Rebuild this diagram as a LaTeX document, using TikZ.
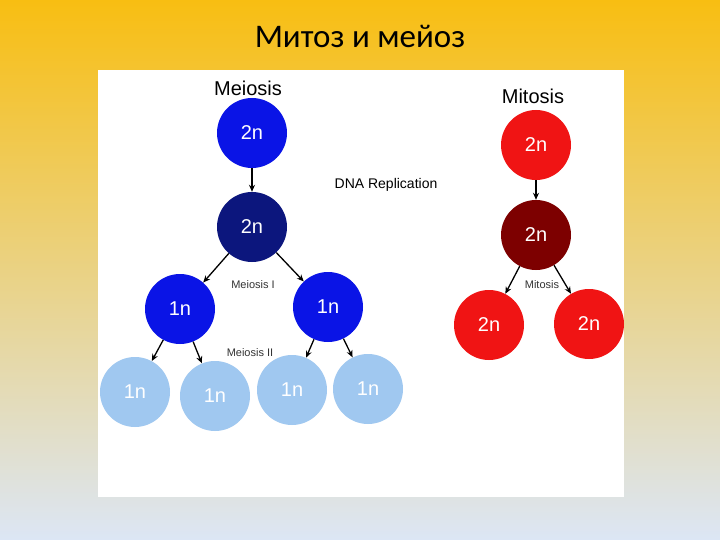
\documentclass[tikz,border=0pt]{standalone}
\usepackage{fontspec}
\setmainfont{Liberation Sans}
\newfontfamily\titlefont{Carlito}
\usetikzlibrary{arrows.meta}
\definecolor{topc}{RGB}{248,190,18}
\definecolor{midc}{RGB}{205,212,200}
\definecolor{botc}{RGB}{220,230,245}
\definecolor{cblue}{RGB}{10,20,230}
\definecolor{cnavy}{RGB}{12,22,125}
\definecolor{clight}{RGB}{160,200,240}
\definecolor{cred}{RGB}{240,20,20}
\definecolor{cdark}{RGB}{125,0,0}
\begin{document}
\begin{tikzpicture}[x=1pt,y=-1pt,
  cell/.style={circle,minimum size=70pt,inner sep=0pt,text=white,font=\fontsize{20}{20}\selectfont},
  arr/.style={-{Stealth[length=7pt,width=6pt]},line width=1.3pt,black},
  lbl/.style={font=\fontsize{11}{11}\selectfont,text=black!80}]
\shade[top color=topc,middle color=midc,bottom color=botc] (0,0) rectangle (720,540);
\useasboundingbox (0,0) rectangle (720,540);
\node[font=\titlefont\fontsize{33}{33}\selectfont] (title) at (360,36) {Митоз и мейоз};
\fill[white] (98,70) rectangle (624,497);
\node[font=\fontsize{20}{20}\selectfont] (meio) at (248,88) {Meiosis};
\node[font=\fontsize{20}{20}\selectfont] (mito) at (533,96) {Mitosis};
\node[font=\fontsize{14}{14}\selectfont] (dna) at (386,185) {DNA Replication};
\node[cell,fill=cblue] (a) at (252,133) {2n};
\node[cell,fill=cnavy] (b) at (252,227) {2n};
\node[cell,fill=cblue] (c) at (180,309) {1n};
\node[cell,fill=cblue] (d) at (328,307) {1n};
\node[cell,fill=clight] (e) at (135,392) {1n};
\node[cell,fill=clight] (f) at (215,396) {1n};
\node[cell,fill=clight] (g) at (292,390) {1n};
\node[cell,fill=clight] (h) at (368,389) {1n};
\node[cell,fill=cred] (r1) at (536,145) {2n};
\node[cell,fill=cdark] (r2) at (536,235) {2n};
\node[cell,fill=cred] (r3) at (489,325) {2n};
\node[cell,fill=cred] (r4) at (589,324) {2n};
\node[lbl] (m1) at (253,285) {Meiosis I};
\node[lbl] (m2) at (250,353) {Meiosis II};
\node[lbl] (m3) at (542,285) {Mitosis};
\draw[arr] (a) -- (b);
\draw[arr] (b) -- (c);
\draw[arr] (b) -- (d);
\draw[arr] (c) -- (e);
\draw[arr] (c) -- (f);
\draw[arr] (d) -- (g);
\draw[arr] (d) -- (h);
\draw[arr] (r1) -- (r2);
\draw[arr] (r2) -- (r3);
\draw[arr] (r2) -- (r4);
\end{tikzpicture}
\end{document}
